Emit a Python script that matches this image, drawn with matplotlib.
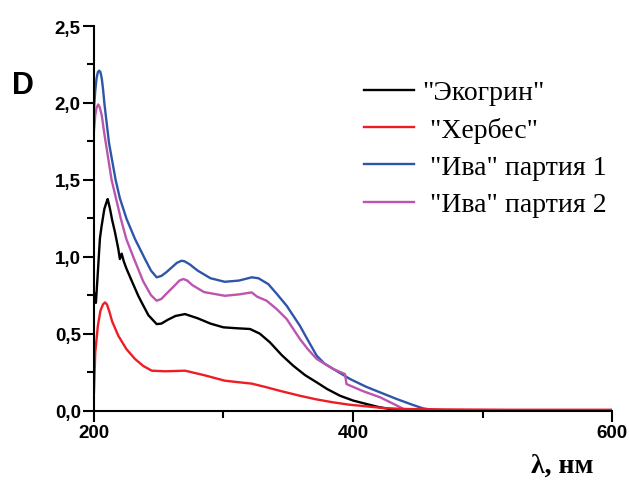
import matplotlib.pyplot as plt
from matplotlib.ticker import MultipleLocator, FuncFormatter
import numpy as np

# --- data ---
wl_black = [200, 201.5, 203, 204.6, 205.9, 208, 209.5, 210.6, 212.4, 214, 216.2, 218.8, 220, 221.4,
            223, 225.2, 229.1, 234.2, 236.8, 242, 248.4, 252, 257, 263, 270.3, 280, 290, 299.9, 310,
            320.5, 328, 335.9, 345, 353.9, 363, 372, 380, 390, 400, 410.6, 420, 428.6, 440, 470, 600]
d_black = [0.77, 0.70, 0.90, 1.12, 1.20, 1.31, 1.35, 1.375, 1.31, 1.24, 1.16, 1.05, 0.985, 1.02,
           0.97, 0.92, 0.844, 0.746, 0.703, 0.62, 0.562, 0.565, 0.59, 0.615, 0.627, 0.60, 0.565, 0.541, 0.535,
           0.53, 0.50, 0.443, 0.36, 0.291, 0.23, 0.183, 0.14, 0.096, 0.065, 0.042, 0.022, 0.01, 0.005, 0.002, 0.0]

wl_red = [200, 201, 203, 205, 207, 208.5, 210, 212, 214, 218.8, 225, 231.7, 238, 244.6, 255, 270.3, 285, 301,
          312.7, 321.8, 333.3, 345, 359, 372, 384.8, 397, 410.6, 425, 440, 470, 520, 600]
d_red = [0.12, 0.38, 0.55, 0.65, 0.69, 0.703, 0.69, 0.64, 0.58, 0.486, 0.40, 0.335, 0.29, 0.259, 0.255, 0.259,
         0.23, 0.194, 0.183, 0.175, 0.151, 0.125, 0.096, 0.072, 0.053, 0.038, 0.027, 0.015, 0.01, 0.007, 0.005, 0.005]

wl_blue = [200, 201, 202, 203, 204, 205, 206, 207, 208, 211.6, 216.7, 220, 225.2, 231.7, 239.4, 244, 248.4,
           252, 256, 260, 264, 267.7, 270, 274, 280, 290, 301, 312, 321.8, 327, 334.6, 341, 348.8, 359, 365,
           372, 378, 384.8, 397.7, 410, 420.9, 433.7, 445, 454, 462, 480, 520, 600]
d_blue = [1.96, 2.08, 2.16, 2.20, 2.21, 2.20, 2.16, 2.09, 2.0, 1.74, 1.5, 1.38, 1.245, 1.115, 0.985, 0.91, 0.866,
          0.875, 0.90, 0.93, 0.96, 0.974, 0.97, 0.95, 0.91, 0.86, 0.837, 0.845, 0.866, 0.86, 0.822, 0.76, 0.681,
          0.551, 0.46, 0.356, 0.305, 0.27, 0.205, 0.155, 0.118, 0.075, 0.04, 0.014, 0.004, 0.002, 0.0, 0.0]

wl_mag = [200, 201, 202, 203.3, 204.5, 206, 208, 213.6, 220.8, 225, 231, 238, 244, 248.4, 252, 256, 262,
          266, 269, 272, 276, 285, 301, 312, 321.8, 326, 333.3, 341, 348.8, 359, 365, 372, 384.8, 393.8, 395,
          408, 420.9, 432, 441.5, 460, 600]
d_mag = [1.82, 1.92, 1.97, 1.99, 1.97, 1.92, 1.8, 1.5, 1.245, 1.115, 0.985, 0.84, 0.75, 0.714, 0.725, 0.76,
         0.81, 0.845, 0.855, 0.845, 0.815, 0.77, 0.746, 0.755, 0.768, 0.74, 0.714, 0.66, 0.595, 0.465, 0.40,
         0.335, 0.27, 0.237, 0.172, 0.125, 0.086, 0.04, 0.0, 0.0, 0.0]

labels = ['"Экогрин"', ' "Хербес"', ' "Ива" партия 1', ' "Ива" партия 2']
colors = ['#000000', '#ee1c25', '#2e56a8', '#bb55b0']

fig = plt.figure(figsize=(6.29, 4.85), dpi=100)
ax = fig.add_axes([0.1494, 0.1515, 0.8236, 0.7928])

lw = 1.7
h_blue, = ax.plot(wl_blue, d_blue, color=colors[2], lw=lw, label=labels[2])
h_mag, = ax.plot(wl_mag, d_mag, color=colors[3], lw=lw, label=labels[3])
h_black, = ax.plot(wl_black, d_black, color=colors[0], lw=lw, label=labels[0])
h_red, = ax.plot(wl_red, d_red, color=colors[1], lw=lw, label=labels[1])

ax.set_xlim(200, 600)
ax.set_ylim(0, 2.5)

for side in ['top', 'right']:
    ax.spines[side].set_visible(False)
for side in ['left', 'bottom']:
    ax.spines[side].set_linewidth(1.5)

ax.xaxis.set_major_locator(MultipleLocator(200))
ax.xaxis.set_minor_locator(MultipleLocator(100))
ax.yaxis.set_major_locator(MultipleLocator(0.5))
ax.yaxis.set_minor_locator(MultipleLocator(0.25))
ax.yaxis.set_major_formatter(FuncFormatter(lambda v, p: f"{v:.1f}".replace('.', ',')))
ax.tick_params(which='major', direction='out', length=8, width=1.5, labelsize=13.5, pad=1.5)
ax.tick_params(which='minor', direction='out', length=5, width=1.5)
for lab in ax.get_xticklabels() + ax.get_yticklabels():
    lab.set_fontweight('bold')
    lab.set_family('Liberation Sans')

leg = ax.legend([h_black, h_red, h_blue, h_mag], labels, frameon=False,
                loc='upper left', bbox_to_anchor=(350 / 629, 1 - 67 / 485),
                bbox_transform=fig.transFigure,
                prop={'family': 'Liberation Serif', 'size': 20},
                handlelength=1.8, handletextpad=0.32, labelspacing=0.42, borderpad=0)

fig.text(22.5 / 629, 1 - 86 / 485, 'D', family='Liberation Sans', weight='bold', size=22,
         ha='center', va='center')
fig.text(562 / 629, 1 - 466 / 485, 'λ, нм', family='Liberation Serif', weight='bold', size=20,
         ha='center', va='center')

fig.savefig('out.png', dpi=100)
